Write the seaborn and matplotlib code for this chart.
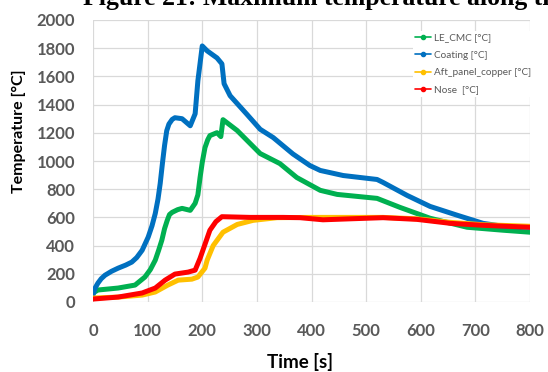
import matplotlib
matplotlib.use("Agg")
import matplotlib.pyplot as plt
from matplotlib.lines import Line2D
import seaborn as sns
import pandas as pd

# Series: time [s] and temperature [°C]
t_cmc = [0, 9, 46, 77, 95, 105, 114, 120, 126, 131, 136, 140, 145, 155, 163, 178, 187,
         192, 196, 200, 205, 210, 214, 227, 234, 238, 264, 306, 342, 373, 416, 447,
         520, 562, 617, 685, 751, 800]
le_cmc = [64, 85, 99, 120, 177, 230, 297, 365, 438, 520, 580, 620, 636, 655, 664, 650,
          700, 760, 883, 990, 1095, 1150, 1180, 1201, 1173, 1293, 1216, 1053, 982, 883,
          792, 763, 735, 671, 594, 530, 509, 495]

t_coat = [0, 4, 9, 15, 22, 34, 46, 60, 71, 80, 90, 101, 108, 114, 119, 123, 127, 131,
          135, 139, 145, 150, 163, 178, 187, 192, 200, 209, 227, 236, 240, 251, 282,
          306, 330, 366, 397, 416, 458, 520, 531, 575, 617, 667, 714, 751, 800]
coating = [50, 100, 134, 165, 190, 218, 240, 262, 283, 315, 367, 460, 540, 628, 730,
           840, 980, 1110, 1215, 1262, 1295, 1307, 1300, 1250, 1335, 1569, 1816, 1781,
           1731, 1689, 1548, 1463, 1330, 1225, 1166, 1050, 968, 933, 897, 869, 848, 756,
           678, 615, 558, 537, 530]

t_aft = [0, 46, 90, 114, 137, 156, 181, 192, 205, 209, 220, 238, 264, 293, 337, 400,
         450, 531, 593, 654, 714, 800]
aft_copper = [28, 35, 49, 71, 120, 155, 162, 177, 240, 297, 400, 495, 550, 579, 598,
              600, 600, 600, 590, 565, 548, 537]

t_nose = [0, 46, 90, 114, 132, 150, 174, 187, 196, 214, 225, 236, 288, 348, 379, 421,
          471, 531, 593, 654, 714, 800]
nose = [21, 35, 64, 99, 155, 198, 212, 226, 310, 509, 570, 605, 600, 600, 598, 583,
        590, 598, 586, 558, 544, 530]

series_names = ["LE_CMC [°C]", "Coating [°C]", "Aft_panel_copper [°C]", "Nose  [°C]"]
series_colors = ["#00B050", "#0070C0", "#FFC000", "#FF0000"]

x_ticks = [0, 100, 200, 300, 400, 500, 600, 700, 800]
y_ticks = [0, 200, 400, 600, 800, 1000, 1200, 1400, 1600, 1800, 2000]

frames = []
for name, tt, vv in zip(series_names,
                        [t_cmc, t_coat, t_aft, t_nose],
                        [le_cmc, coating, aft_copper, nose]):
    frames.append(pd.DataFrame({"Time": tt, "Temp": vv, "Series": name}))
df = pd.concat(frames, ignore_index=True)

sns.set_theme(style="white")
plt.rcParams["font.family"] = ["Lato", "DejaVu Sans"]

W, H = 548, 372
fig = plt.figure(figsize=(W / 100, H / 100), dpi=100)
ax = fig.add_axes([93 / W, 1 - 302 / H, (530 - 93) / W, (302 - 20) / H])

sns.lineplot(data=df, x="Time", y="Temp", hue="Series", hue_order=series_names,
             palette=series_colors, estimator=None, sort=False, linewidth=3.6,
             legend=False, ax=ax, zorder=3)
for ln in ax.get_lines():
    ln.set_solid_joinstyle("round")
    ln.set_solid_capstyle("round")

ax.set_xlim(0, 800)
ax.set_ylim(0, 2000)
ax.set_xticks(x_ticks)
ax.set_yticks(y_ticks)
ax.set_xticklabels([str(v) for v in x_ticks])
ax.set_yticklabels([str(v) for v in y_ticks])
ax.grid(True, color="#d9d9d9", linewidth=0.9)
ax.set_axisbelow(True)
for sp in ax.spines.values():
    sp.set_visible(False)
ax.tick_params(axis="both", length=0, labelsize=12, labelcolor="#595959")
ax.tick_params(axis="x", pad=15)
ax.tick_params(axis="y", pad=13)
for lab in ax.get_xticklabels() + ax.get_yticklabels():
    lab.set_fontweight("bold")
ax.set_xlabel("")
ax.set_ylabel("")

fig.text(300 / W, 1 - 362 / H, "Time [s]", ha="center", va="center",
         fontsize=13.5, fontweight="bold", color="black")
fig.text(19 / W, 1 - 131 / H, "Temperature [°C]", ha="center", va="center",
         rotation=90, fontsize=11.5, fontweight="bold", color="black")

fig.text(83 / W, 1 - 5.5 / H, "Figure 21: Maximum temperature along the",
         ha="left", va="baseline", fontsize=18.5, fontweight="bold",
         family=["Liberation Serif", "DejaVu Serif"], color="black")

handles = [Line2D([], [], color=c, linewidth=1.2, marker="o", markersize=3)
           for c in series_colors]
leg = ax.legend(handles, series_names, loc="upper left",
                bbox_to_anchor=((413 - 93) / 437, (302 - 31) / 282),
                frameon=True, fontsize=7.2, labelcolor="#595959",
                handlelength=1.6, handletextpad=0.25, labelspacing=0.85,
                borderpad=0.2, borderaxespad=0.0)
leg.get_frame().set_facecolor("white")
leg.get_frame().set_edgecolor("none")
leg.get_frame().set_alpha(1.0)
leg.set_zorder(5)

fig.savefig("out.png", dpi=100)
